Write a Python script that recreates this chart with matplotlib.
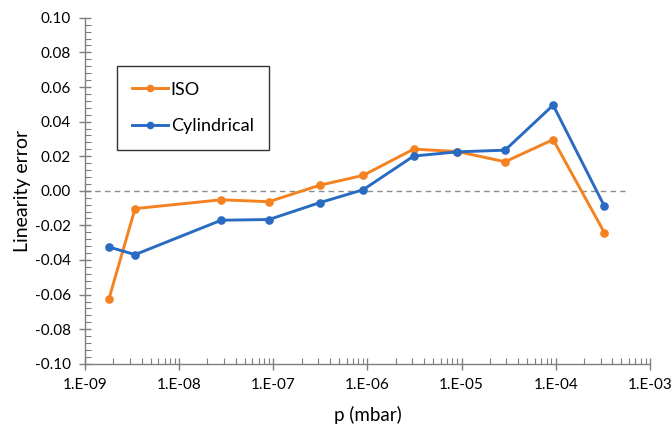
import matplotlib
matplotlib.use("Agg")
import matplotlib.pyplot as plt
from matplotlib.ticker import MultipleLocator, LogLocator, FixedLocator, NullFormatter
import numpy as np

pressure = [1.8e-9, 3.4e-9, 2.8e-8, 9.0e-8, 3.1e-7, 9.0e-7, 3.1e-6, 9.0e-6, 2.9e-5, 9.4e-5, 3.3e-4]
iso = [-0.0623, -0.0103, -0.0052, -0.0063, 0.0032, 0.0089, 0.0241, 0.0227, 0.0168, 0.0296, -0.0243]
cyl = [-0.0325, -0.0369, -0.0170, -0.0166, -0.0069, 0.0006, 0.0201, 0.0225, 0.0235, 0.0495, -0.0090]
zero_line_x = [1e-9, 5.4e-4]
zero_line_y = [0.0, 0.0]
xticks = [1e-9, 1e-8, 1e-7, 1e-6, 1e-5, 1e-4, 1e-3]
xtick_labels = ["1.E-09", "1.E-08", "1.E-07", "1.E-06", "1.E-05", "1.E-04", "1.E-03"]
yticks = [-0.10, -0.08, -0.06, -0.04, -0.02, 0.00, 0.02, 0.04, 0.06, 0.08, 0.10]
ytick_labels = ["%.2f" % v for v in yticks]

plt.rcParams['font.family'] = ['Lato', 'DejaVu Sans']

fig = plt.figure(figsize=(6.72, 4.24), dpi=100)
ax = fig.add_axes([0.1265, 0.142, 0.967 - 0.1265, 0.958 - 0.142])

ORANGE = "#F58220"
BLUE = "#2A6BC2"
ax.plot(zero_line_x, zero_line_y, color="#8C8C8C", lw=1.0, ls=(0, (4, 3)), zorder=1)
ax.plot(pressure, iso, color=ORANGE, lw=2.1, marker="o", ms=5.2, label="ISO", zorder=3)
ax.plot(pressure, cyl, color=BLUE, lw=2.1, marker="o", ms=5.2, label="Cylindrical", zorder=3)

ax.set_xscale("log")
ax.set_xlim(1e-9, 1e-3)
ax.set_ylim(-0.10, 0.10)
ax.xaxis.set_major_locator(FixedLocator(xticks))
ax.set_xticklabels(xtick_labels)
ax.xaxis.set_minor_locator(LogLocator(base=10, subs=np.arange(2, 10)))
ax.xaxis.set_minor_formatter(NullFormatter())
ax.set_yticks(yticks)
ax.set_yticklabels(ytick_labels)
ax.yaxis.set_minor_locator(MultipleLocator(0.004))

for s in ["top", "right"]:
    ax.spines[s].set_visible(False)
for s in ["left", "bottom"]:
    ax.spines[s].set_color("#7F7F7F")
    ax.spines[s].set_linewidth(1.0)

ax.tick_params(axis="both", which="major", direction="inout", length=8, width=1.0,
               color="#7F7F7F", labelsize=11, labelcolor="#000000")
ax.tick_params(axis="both", which="minor", direction="in", length=4, width=0.8, color="#7F7F7F")
ax.tick_params(axis="x", which="major", pad=6)
ax.tick_params(axis="y", which="major", pad=6)

ax.set_xlabel("p (mbar)", fontsize=13.5, labelpad=10)
ax.set_ylabel("Linearity error", fontsize=14, labelpad=3)

leg = ax.legend(loc="upper left", bbox_to_anchor=(0.056, 0.86), fontsize=13,
                frameon=True, fancybox=False, edgecolor="#000000", handlelength=2.0,
                handletextpad=0.15, borderpad=0.85, labelspacing=1.15, borderaxespad=0)
leg.get_frame().set_linewidth(1.0)
for h in leg.get_lines():
    h.set_markersize(4.5)

fig.savefig("out.png", dpi=100, facecolor="white")
